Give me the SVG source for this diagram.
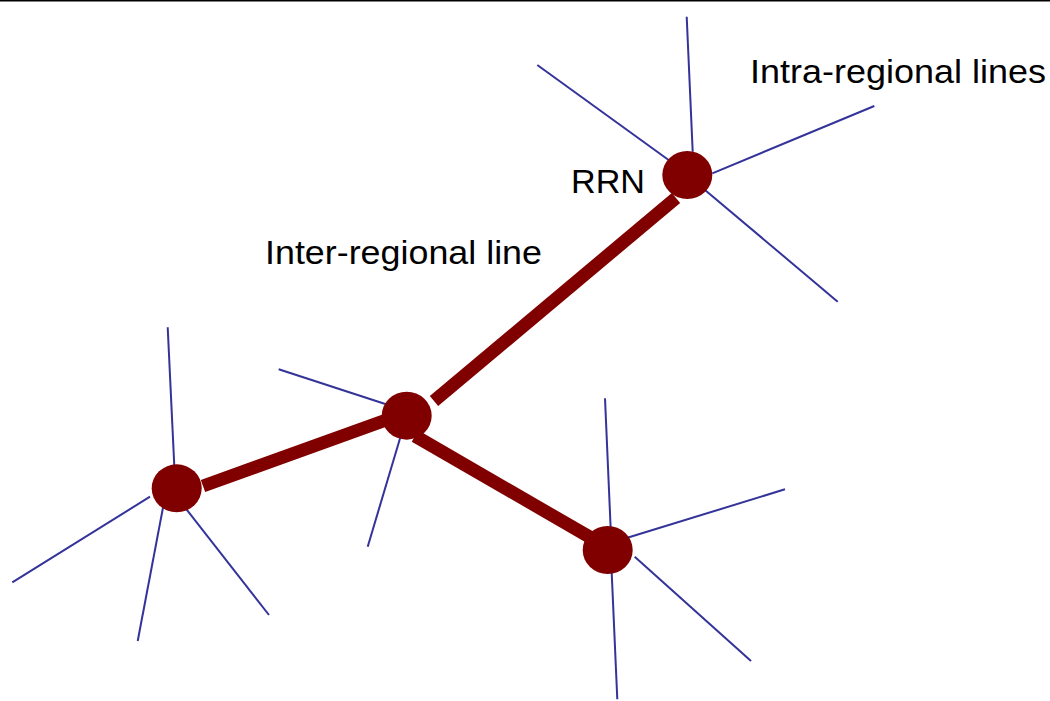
<svg xmlns="http://www.w3.org/2000/svg" width="1050" height="701" viewBox="0 0 1050 701">
  <style>
    .label { font-family: "Liberation Sans", Arial, sans-serif; font-size: 33px; fill: #000000; }
    .intra { stroke: #333399; stroke-width: 2; fill: none; }
    .inter { stroke: #800000; stroke-width: 13; fill: none; stroke-linecap: butt; }
    .node { fill: #800000; }
  </style>
  <rect width="1050" height="701" fill="#ffffff"/>
  <rect x="0" y="0" width="1050" height="1.5" fill="#000000"/>

  <!-- connectors: thick inter-regional lines and thin intra-regional spokes -->
  <g id="connectors">
    <line class="inter" x1="203" y1="486" x2="400" y2="415"/>
    <line class="inter" x1="434" y1="401" x2="676" y2="198"/>
    <line class="inter" x1="415" y1="436" x2="600" y2="543"/>

    <!-- spokes of the RRN node -->
    <line class="intra" x1="686.7" y1="16.7" x2="692.7" y2="151.7"/>
    <line class="intra" x1="537.3" y1="65" x2="670" y2="161"/>
    <line class="intra" x1="874.3" y1="106" x2="712.3" y2="173.3"/>
    <line class="intra" x1="702.3" y1="187.7" x2="837.7" y2="301.7"/>

    <!-- spokes of the middle node -->
    <line class="intra" x1="278.7" y1="369.3" x2="398.3" y2="408.3"/>
    <line class="intra" x1="401.7" y1="432.7" x2="367.7" y2="546.7"/>

    <!-- spokes of the left node -->
    <line class="intra" x1="167.7" y1="327.3" x2="174.3" y2="466"/>
    <line class="intra" x1="150" y1="496.7" x2="12.3" y2="582.3"/>
    <line class="intra" x1="165.7" y1="493.3" x2="137.7" y2="641"/>
    <line class="intra" x1="182.3" y1="504" x2="269" y2="615"/>

    <!-- spokes of the lower-right node -->
    <line class="intra" x1="605" y1="398.3" x2="611" y2="536"/>
    <line class="intra" x1="625.7" y1="538.3" x2="785" y2="489.3"/>
    <line class="intra" x1="634.7" y1="556.7" x2="751" y2="661"/>
    <line class="intra" x1="611.7" y1="572.7" x2="617.3" y2="699.3"/>
  </g>

  <g id="node-rrn">
    <ellipse class="node" cx="687.3" cy="175" rx="25" ry="24"/>
  </g>
  <g id="node-middle">
    <ellipse class="node" cx="406.7" cy="415.7" rx="25" ry="24"/>
  </g>
  <g id="node-left">
    <ellipse class="node" cx="176.7" cy="488.3" rx="25" ry="24"/>
  </g>
  <g id="node-lower-right">
    <ellipse class="node" cx="607.7" cy="550" rx="25" ry="24"/>
  </g>

  <g id="labels">
    <text class="label" x="750" y="83.3" textLength="296" lengthAdjust="spacingAndGlyphs">Intra-regional lines</text>
    <text class="label" x="265" y="264" textLength="277" lengthAdjust="spacingAndGlyphs">Inter-regional line</text>
    <text class="label" x="571" y="193.3" textLength="74" lengthAdjust="spacingAndGlyphs">RRN</text>
  </g>
</svg>
